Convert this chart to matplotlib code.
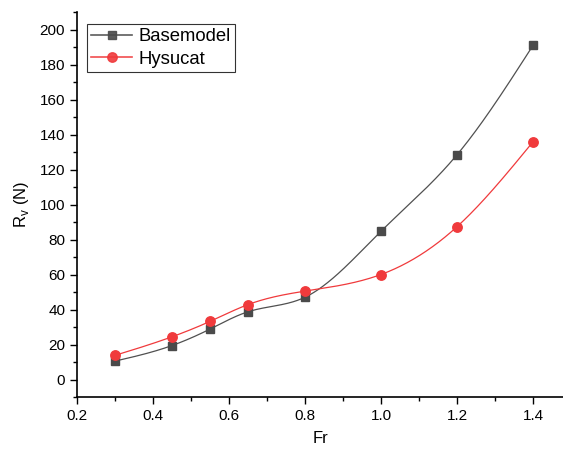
import numpy as np
import matplotlib
matplotlib.use("Agg")
import matplotlib.pyplot as plt
from matplotlib.ticker import MultipleLocator

plt.rcParams['font.family'] = ['Liberation Sans', 'DejaVu Sans']

fr = [0.3, 0.45, 0.55, 0.65, 0.8, 1.0, 1.2, 1.4]
basemodel = [10.5, 19.4, 28.8, 38.7, 47.0, 84.7, 128.4, 190.9]
hysucat = [13.8, 24.4, 33.2, 42.8, 50.5, 60.0, 87.3, 135.8]

def natural_spline(x, y, n=400):
    x = np.asarray(x, float); y = np.asarray(y, float)
    m = len(x); h = np.diff(x)
    A = np.zeros((m, m)); b = np.zeros(m)
    A[0, 0] = 1; A[-1, -1] = 1
    for i in range(1, m - 1):
        A[i, i - 1] = h[i - 1]; A[i, i] = 2 * (h[i - 1] + h[i]); A[i, i + 1] = h[i]
        b[i] = 3 * ((y[i + 1] - y[i]) / h[i] - (y[i] - y[i - 1]) / h[i - 1])
    c = np.linalg.solve(A, b)
    xs = np.linspace(x[0], x[-1], n)
    idx = np.clip(np.searchsorted(x, xs) - 1, 0, m - 2)
    dx = xs - x[idx]
    bb = (y[1:] - y[:-1]) / h - h * (2 * c[:-1] + c[1:]) / 3
    d = (c[1:] - c[:-1]) / (3 * h)
    ys = y[idx] + bb[idx] * dx + c[idx] * dx ** 2 + d[idx] * dx ** 3
    return xs, ys

fig = plt.figure(figsize=(5.63, 4.5), dpi=100)
ax = fig.add_axes([77 / 563, 1 - 397 / 450, 1 - 77 / 563, (397 - 12) / 450])

c_base = '#4a4a4a'
c_hys = '#f03a3c'
xs, ys = natural_spline(fr, basemodel)
ax.plot(xs, ys, color='#505050', lw=0.9, zorder=2)
ax.plot(fr, basemodel, 's', color=c_base, ms=6, zorder=3)
xs, ys = natural_spline(fr, hysucat)
ax.plot(xs, ys, color=c_hys, lw=0.9, zorder=2)
ax.plot(fr, hysucat, 'o', color=c_hys, ms=6.8, zorder=3)

# legend handles
ax.plot([], [], '-s', color=c_base, ms=6, lw=1.2, label='Basemodel')
ax.plot([], [], '-o', color=c_hys, ms=6.8, lw=1.2, label='Hysucat')
leg = ax.legend(loc='upper left', bbox_to_anchor=(0.02, 0.97), fontsize=13.3,
                frameon=True, fancybox=False, edgecolor='black', handlelength=2.2,
                borderpad=0.25, labelspacing=0.3, handletextpad=0.35, borderaxespad=0)
leg.get_frame().set_linewidth(0.8)
for ln in leg.get_lines():
    ln.set_alpha(0.9)

ax.set_xlim(0.2, 1.479)
ax.set_ylim(-10, 210)
ax.spines['top'].set_visible(False)
ax.spines['right'].set_visible(False)
for s in ['left', 'bottom']:
    ax.spines[s].set_linewidth(1.2)
ax.xaxis.set_minor_locator(MultipleLocator(0.1))
ax.yaxis.set_minor_locator(MultipleLocator(10))
ax.set_xticks([0.2, 0.4, 0.6, 0.8, 1.0, 1.2, 1.4])
ax.set_xticklabels(['0.2', '0.4', '0.6', '0.8', '1.0', '1.2', '1.4'])
ax.set_yticks(list(range(0, 201, 20)))
ax.tick_params(which='major', direction='out', length=5, width=1, labelsize=11)
ax.tick_params(which='minor', direction='out', length=3, width=1)
ax.set_xlabel('Fr', fontsize=12, labelpad=6)
ax.set_ylabel(r'R$_\mathregular{v}$ (N)', fontsize=12, labelpad=6)

fig.savefig('out.png', dpi=100)
